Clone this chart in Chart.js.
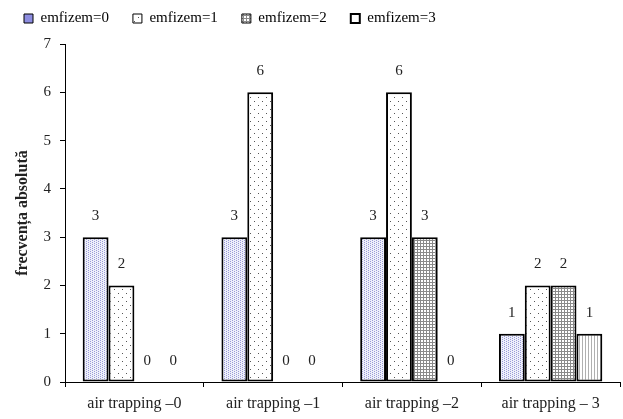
<!DOCTYPE html>
<html>
<head>
<meta charset="utf-8">
<script src="https://cdn.jsdelivr.net/npm/chart.js@4/dist/chart.umd.min.js"></script>
<style>
  html, body { margin: 0; padding: 0; background: #ffffff; }
  #wrap { width: 623px; height: 419px; }
</style>
</head>
<body>
<div id="wrap"><canvas id="chart" width="623" height="419"></canvas></div>
<script>
// Categories and absolute frequencies per emphysema grade
const categories = ['air trapping \u20130', 'air trapping \u20131', 'air trapping \u20132', 'air trapping \u2013 3'];
const seriesNames = ['emfizem=0', 'emfizem=1', 'emfizem=2', 'emfizem=3'];
const emfizem0 = [3, 3, 3, 1];
const emfizem1 = [2, 6, 6, 2];
const emfizem2 = [0, 0, 3, 2];
const emfizem3 = [0, 0, 0, 1];
const yTicks = [0, 1, 2, 3, 4, 5, 6, 7];

const SERIF = "'Liberation Serif', 'Times New Roman', serif";

// Small tiled fills used for the bars
function makePattern(w, h, bg, paint) {
  const c = document.createElement('canvas');
  c.width = w; c.height = h;
  const g = c.getContext('2d');
  g.fillStyle = bg;
  g.fillRect(0, 0, w, h);
  paint(g);
  return g.createPattern(c, 'repeat');
}
const ctxMain = document.getElementById('chart').getContext('2d');

const fineDots = makePattern(4, 2, '#eef0fa', g => {
  g.fillStyle = '#9a9ad8';
  g.fillRect(0, 0, 1, 1);
  g.fillRect(2, 1, 1, 1);
});
const sparseDots = makePattern(8, 8, '#ffffff', g => {
  g.fillStyle = '#555555';
  g.fillRect(2, 1, 1, 1);
  g.fillRect(6, 5, 1, 1);
});
const gridFill = makePattern(3, 3, '#ffffff', g => {
  g.fillStyle = '#8a8a8a';
  g.fillRect(0, 0, 3, 1);
  g.fillRect(0, 0, 1, 3);
});
const stripeFill = makePattern(3, 1, '#ffffff', g => {
  g.fillStyle = '#b0b0b0';
  g.fillRect(0, 0, 1, 1);
});

const fills = [fineDots, sparseDots, gridFill, stripeFill];
const legendFills = ['#8d8de0', sparseDots, gridFill, '#ffffff'];
const values = [emfizem0, emfizem1, emfizem2, emfizem3];

const datasets = values.map((v, i) => ({
  label: seriesNames[i],
  data: v,
  backgroundColor: fills[i],
  borderColor: '#000000',
  borderWidth: c => (c.raw === 0 ? 0 : 2),
  borderSkipped: false,
  barPercentage: 1.0,
  categoryPercentage: 0.745
}));

// Value labels above each bar (zero bars included)
const valueLabels = {
  id: 'valueLabels',
  afterDatasetsDraw(chart) {
    const ctx = chart.ctx;
    ctx.save();
    ctx.font = '15px ' + SERIF;
    ctx.fillStyle = '#222222';
    ctx.textAlign = 'center';
    ctx.textBaseline = 'middle';
    chart.data.datasets.forEach((ds, i) => {
      const meta = chart.getDatasetMeta(i);
      meta.data.forEach((bar, j) => {
        ctx.fillText(String(ds.data[j]), bar.x, bar.y - 21);
      });
    });
    ctx.restore();
  }
};

// Fixed legend band height so the plot starts just below the legend row
const legendBand = {
  id: 'legendBand',
  beforeLayout(chart) {
    const lg = chart.legend;
    if (lg && !lg._bandPatched) {
      const fit = lg.fit;
      lg.fit = function () { fit.call(this); this.height = 57; };
      lg._bandPatched = true;
    }
  }
};

new Chart(ctxMain, {
  type: 'bar',
  data: { labels: categories, datasets },
  options: {
    responsive: false,
    animation: false,
    layout: { padding: { left: 0, right: 3, top: -13, bottom: 0 } },
    plugins: {
      tooltip: { enabled: false },
      legend: {
        display: true,
        position: 'top',
        align: 'start',
        labels: {
          boxWidth: 9,
          boxHeight: 9,
          padding: 24,
          color: '#222222',
          font: { family: SERIF, size: 15 },
          generateLabels(chart) {
            return chart.data.datasets.map((ds, i) => ({
              text: ds.label,
              fillStyle: legendFills[i],
              strokeStyle: '#000000',
              lineWidth: i === 3 ? 2 : 1,
              hidden: false,
              datasetIndex: i
            }));
          }
        }
      }
    },
    scales: {
      x: {
        grid: { drawOnChartArea: false, drawTicks: true, tickLength: 5, color: '#000000', offset: true },
        border: { display: true, color: '#000000', width: 1 },
        ticks: { color: '#222222', font: { family: SERIF, size: 16 }, padding: 7, maxRotation: 0 },
        afterFit(scale) { scale.height = 37; }
      },
      y: {
        min: 0,
        max: 7,
        afterBuildTicks(scale) { scale.ticks = yTicks.map(v => ({ value: v })); },
        grid: { drawOnChartArea: false, drawTicks: true, tickLength: 5, color: '#000000' },
        border: { display: true, color: '#000000', width: 1 },
        ticks: { color: '#222222', font: { family: SERIF, size: 15 }, padding: 9 },
        title: {
          display: true,
          text: 'frecvența absolută',
          color: '#222222',
          font: { family: SERIF, size: 16, weight: 'bold' },
          padding: { top: 13, bottom: 4 }
        },
        afterFit(scale) { scale.width = 65; }
      }
    }
  },
  plugins: [valueLabels, legendBand]
});
</script>
</body>
</html>
